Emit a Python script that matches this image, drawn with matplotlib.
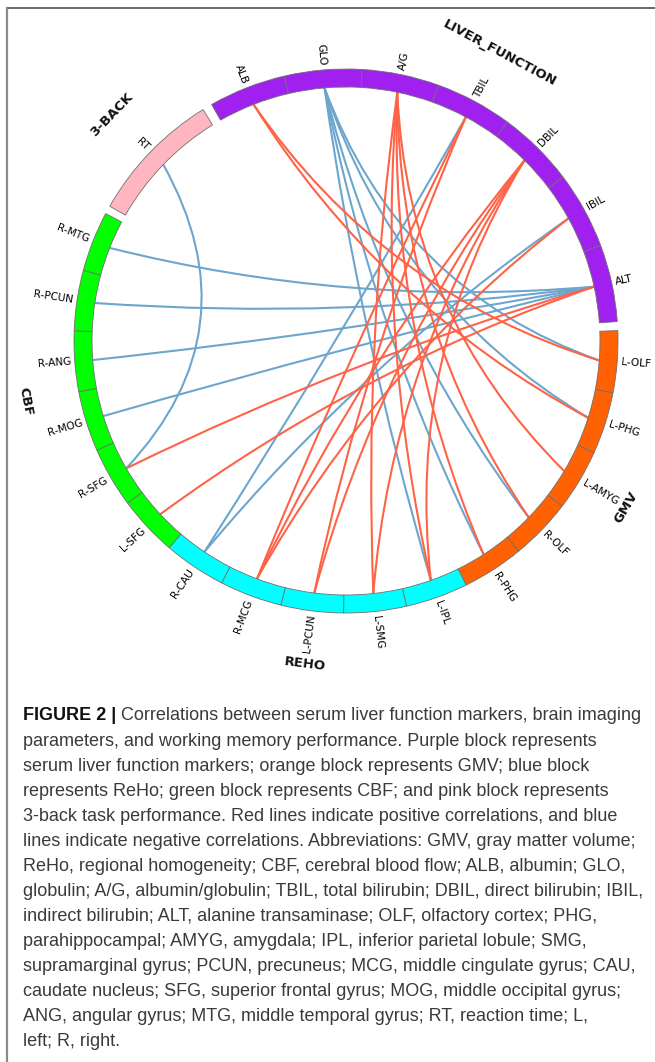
import numpy as np
import matplotlib.pyplot as plt
from matplotlib.patches import Wedge, PathPatch
from matplotlib.path import Path
from matplotlib.lines import Line2D

# blocks of the circle, clockwise from the top left
group_names = ["LIVER_FUNCTION", "GMV", "REHO", "CBF", "3-BACK"]
group_colors = ["#A020F0", "#FF6103", "#00FFFF", "#00FF00", "#FFB6C1"]
liver_nodes = ["ALB", "GLO", "A/G", "TBIL", "DBIL", "IBIL", "ALT"]
gmv_nodes = ["L-OLF", "L-PHG", "L-AMYG", "R-OLF", "R-PHG"]
reho_nodes = ["L-IPL", "L-SMG", "L-PCUN", "R-MCG", "R-CAU"]
cbf_nodes = ["L-SFG", "R-SFG", "R-MOG", "R-ANG", "R-PCUN", "R-MTG"]
back_nodes = ["RT"]

# significant correlations (red = positive, blue = negative)
pos_links = [
    ("ALB", "L-OLF"), ("ALB", "L-PHG"),
    ("A/G", "L-AMYG"), ("A/G", "R-OLF"), ("A/G", "R-PHG"),
    ("A/G", "L-SMG"), ("A/G", "L-IPL"),
    ("TBIL", "R-MCG"), ("TBIL", "L-PCUN"),
    ("DBIL", "R-MCG"), ("DBIL", "L-PCUN"), ("DBIL", "L-SMG"),
    ("DBIL", "L-IPL"),
    ("IBIL", "R-MCG"),
    ("ALT", "R-SFG"), ("ALT", "L-SFG"),
]
neg_links = [
    ("RT", "R-SFG"),
    ("GLO", "L-OLF"), ("GLO", "L-PHG"), ("GLO", "R-OLF"), ("GLO", "R-PHG"),
    ("GLO", "L-IPL"),
    ("TBIL", "R-CAU"), ("IBIL", "R-CAU"),
    ("ALT", "R-MTG"), ("ALT", "R-PCUN"), ("ALT", "R-ANG"), ("ALT", "R-MOG"),
]

caption = [
    "Correlations between serum liver function markers, brain imaging",
    "parameters, and working memory performance. Purple block represents",
    "serum liver function markers; orange block represents GMV; blue block",
    "represents ReHo; green block represents CBF; and pink block represents",
    "3-back task performance. Red lines indicate positive correlations, and blue",
    "lines indicate negative correlations. Abbreviations: GMV, gray matter volume;",
    "ReHo, regional homogeneity; CBF, cerebral blood flow; ALB, albumin; GLO,",
    "globulin; A/G, albumin/globulin; TBIL, total bilirubin; DBIL, direct bilirubin; IBIL,",
    "indirect bilirubin; ALT, alanine transaminase; OLF, olfactory cortex; PHG,",
    "parahippocampal; AMYG, amygdala; IPL, inferior parietal lobule; SMG,",
    "supramarginal gyrus; PCUN, precuneus; MCG, middle cingulate gyrus; CAU,",
    "caudate nucleus; SFG, superior frontal gyrus; MOG, middle occipital gyrus;",
    "ANG, angular gyrus; MTG, middle temporal gyrus; RT, reaction time; L,",
    "left; R, right.",
]

# layout (pixels, y pointing up)
W, H = 655, 1062
CX, CY = 346, H - 341
R_OUT, R_IN = 272, 254
node_span = [16.5, 13.2, 13.35, 12.9, 28.6]
gap_after = [1.9, 0.0, 0.0, 1.75, 2.1]
start_angle = 119.6
POS_COLOR = "#FF6347"
NEG_COLOR = "#6CA6CD"


def polar(angle, r):
    a = np.radians(angle)
    return np.array([CX + r * np.cos(a), CY + r * np.sin(a)])


def chord(ax, a1, a2, color):
    p0 = polar(a1, R_IN)
    p2 = polar(a2, R_IN)
    centre = np.array([CX, CY])
    ctrl = centre + 0.45 * ((p0 + p2) / 2 - centre)
    path = Path([p0, ctrl, p2], [Path.MOVETO, Path.CURVE3, Path.CURVE3])
    ax.add_patch(PathPatch(path, fc="none", ec=color, lw=1.5, zorder=2))


def text_rotation(angle):
    a = (angle + 180) % 360 - 180
    if -90 <= a <= 90:
        return a, "left"
    return a - 180 if a > 0 else a + 180, "right"


fig = plt.figure(figsize=(W / 100, H / 100), dpi=100)
ax = fig.add_axes([0, 0, 1, 1])
ax.set_xlim(0, W)
ax.set_ylim(0, H)
ax.set_aspect("equal")
ax.axis("off")

groups = [liver_nodes, gmv_nodes, reho_nodes, cbf_nodes, back_nodes]
node_angle = {}
angle = start_angle
for gi, nodes in enumerate(groups):
    g_start = angle
    for name in nodes:
        a1 = angle - node_span[gi]
        ax.add_patch(Wedge((CX, CY), R_OUT, a1, angle, width=R_OUT - R_IN,
                           fc=group_colors[gi], ec="#707070", lw=0.6,
                           zorder=3))
        mid = (a1 + angle) / 2
        node_angle[name] = mid
        rot, ha = text_rotation(mid)
        p = polar(mid, R_OUT + 4)
        ax.text(p[0], p[1], name, rotation=rot, ha=ha, va="center",
                rotation_mode="anchor", fontsize=7.6, color="black")
        angle = a1
    g_mid = (g_start + angle) / 2
    g_rot = g_mid - 90 if np.sin(np.radians(g_mid)) >= 0 else g_mid + 90
    p = polar(g_mid, 326)
    ax.text(p[0], p[1], group_names[gi], rotation=g_rot, ha="center",
            va="center", rotation_mode="anchor", fontsize=9.5,
            fontweight="bold", color="#111111")
    angle -= gap_after[gi]

for a, b in neg_links:
    chord(ax, node_angle[a], node_angle[b], NEG_COLOR)
for a, b in pos_links:
    chord(ax, node_angle[a], node_angle[b], POS_COLOR)

# caption under the diagram
cap_font = ["Liberation Sans", "DejaVu Sans"]
cap_size = 13
x0, y0, dy = 23, H - 716, 25.05
head = ax.text(x0, y0, "FIGURE 2 | ", fontsize=cap_size, fontweight="bold",
               family=cap_font, va="center", color="#111111")
renderer = fig.canvas.get_renderer()
head_w = head.get_window_extent(renderer=renderer).width
for i, line in enumerate(caption):
    x = x0 + head_w if i == 0 else x0
    ax.text(x, y0 - i * dy, line, fontsize=cap_size, family=cap_font,
            va="center", color="#3a3a3a")

# frame lines of the figure panel
fig.add_artist(Line2D([7 / W, 1], [1 - 8 / H, 1 - 8 / H], color="#505050",
                      lw=1.2))
fig.add_artist(Line2D([7 / W, 7 / W], [0, 1 - 8 / H], color="#8a8a8a",
                      lw=1.6))

fig.savefig("out.png", dpi=100)
